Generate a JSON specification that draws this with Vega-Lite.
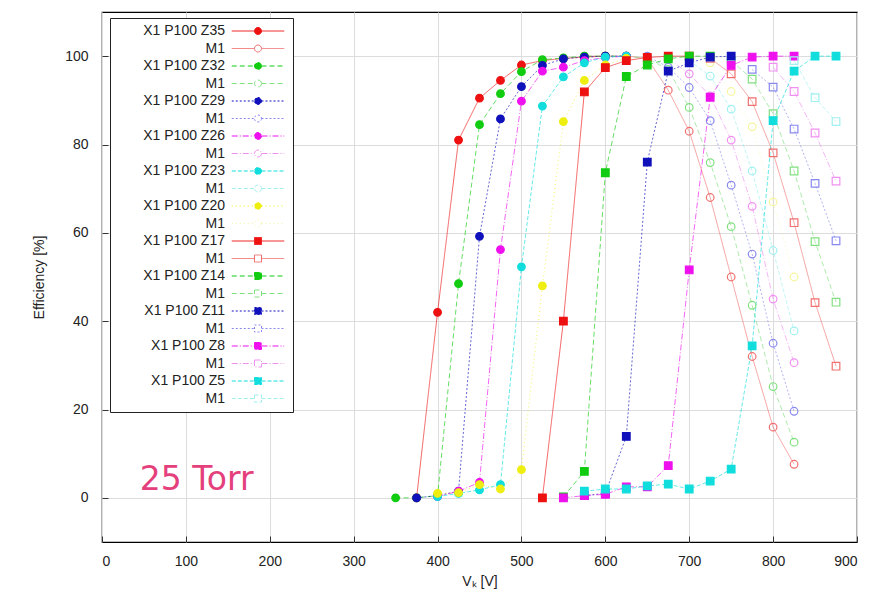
{
  "$schema": "https://vega.github.io/schema/vega-lite/v6.json",
  "width": 755,
  "height": 530,
  "autosize": "none",
  "padding": {"left": 102, "top": 12, "right": 22, "bottom": 55},
  "background": "white",
  "config": {
    "font": "Liberation Sans",
    "view": {"stroke": "black", "strokeWidth": 1.2},
    "axis": {
      "domain": false,
      "gridColor": "#dcdcdc",
      "gridWidth": 1,
      "tickColor": "#333",
      "tickSize": -6,
      "labelFont": "Liberation Sans",
      "labelFontSize": 14,
      "labelColor": "#222",
      "titleFont": "Liberation Sans",
      "titleFontSize": 14,
      "titleFontWeight": "normal",
      "titleColor": "#222"
    },
    "legend": {
      "orient": "none", "legendX": 8, "legendY": 6,
      "strokeColor": "#222", "fillColor": "white", "padding": 6,
      "labelFontSize": 14, "labelColor": "#222", "labelFont": "Liberation Sans",
      "labelAlign": "right", "labelOffset": -40, "symbolOffset": 135, "labelLimit": 200,
      "symbolSize": 49, "symbolStrokeWidth": 1, "rowPadding": 3.5, "symbolOpacity": 1
    }
  },
  "data": {"values": [
    {"s":"Z35","v":375,"e":0},{"s":"Z35","v":400,"e":42},{"s":"Z35","v":425,"e":81},{"s":"Z35","v":450,"e":90.5},{"s":"Z35","v":475,"e":94.5},{"s":"Z35","v":500,"e":98},{"s":"Z35","v":525,"e":99},{"s":"Z35","v":550,"e":99.5},{"s":"Z35","v":575,"e":99.8},{"s":"Z35","v":600,"e":100},
    {"s":"M1 Z35","v":575,"e":100},{"s":"M1 Z35","v":600,"e":100},{"s":"M1 Z35","v":625,"e":100},{"s":"M1 Z35","v":650,"e":99.5},{"s":"M1 Z35","v":675,"e":92.3},{"s":"M1 Z35","v":700,"e":83},{"s":"M1 Z35","v":725,"e":68},{"s":"M1 Z35","v":750,"e":50},{"s":"M1 Z35","v":775,"e":32},{"s":"M1 Z35","v":800,"e":16},{"s":"M1 Z35","v":825,"e":7.6},
    {"s":"Z32","v":350,"e":0},{"s":"Z32","v":375,"e":0},{"s":"Z32","v":400,"e":0.5},{"s":"Z32","v":425,"e":48.5},{"s":"Z32","v":450,"e":84.5},{"s":"Z32","v":475,"e":91.5},{"s":"Z32","v":500,"e":96.5},{"s":"Z32","v":525,"e":99.2},{"s":"Z32","v":550,"e":99.6},{"s":"Z32","v":575,"e":100},{"s":"Z32","v":600,"e":100},{"s":"Z32","v":625,"e":100},
    {"s":"M1 Z32","v":625,"e":100},{"s":"M1 Z32","v":650,"e":99.5},{"s":"M1 Z32","v":675,"e":97},{"s":"M1 Z32","v":700,"e":88.4},{"s":"M1 Z32","v":725,"e":75.9},{"s":"M1 Z32","v":750,"e":61.4},{"s":"M1 Z32","v":775,"e":43.6},{"s":"M1 Z32","v":800,"e":25.2},{"s":"M1 Z32","v":825,"e":12.6},
    {"s":"Z29","v":375,"e":0},{"s":"Z29","v":400,"e":0.5},{"s":"Z29","v":425,"e":1.5},{"s":"Z29","v":450,"e":59.2},{"s":"Z29","v":475,"e":85.8},{"s":"Z29","v":500,"e":93.1},{"s":"Z29","v":525,"e":97.9},{"s":"Z29","v":550,"e":99.4},{"s":"Z29","v":575,"e":99.8},{"s":"Z29","v":600,"e":100},{"s":"Z29","v":625,"e":100},
    {"s":"M1 Z29","v":650,"e":100},{"s":"M1 Z29","v":675,"e":97.5},{"s":"M1 Z29","v":700,"e":92.9},{"s":"M1 Z29","v":725,"e":85.4},{"s":"M1 Z29","v":750,"e":70.8},{"s":"M1 Z29","v":775,"e":55.2},{"s":"M1 Z29","v":800,"e":35},{"s":"M1 Z29","v":825,"e":19.6},
    {"s":"Z26","v":400,"e":0.3},{"s":"Z26","v":425,"e":1.5},{"s":"Z26","v":450,"e":3.5},{"s":"Z26","v":475,"e":56.2},{"s":"Z26","v":500,"e":89.8},{"s":"Z26","v":525,"e":96.6},{"s":"Z26","v":550,"e":97.5},{"s":"Z26","v":575,"e":99},{"s":"Z26","v":600,"e":99.7},{"s":"Z26","v":625,"e":100},
    {"s":"M1 Z26","v":675,"e":99.5},{"s":"M1 Z26","v":700,"e":96},{"s":"M1 Z26","v":725,"e":91},{"s":"M1 Z26","v":750,"e":81},{"s":"M1 Z26","v":775,"e":66},{"s":"M1 Z26","v":800,"e":45},{"s":"M1 Z26","v":825,"e":30.6},
    {"s":"Z23","v":400,"e":0.3},{"s":"Z23","v":425,"e":1},{"s":"Z23","v":450,"e":1.8},{"s":"Z23","v":475,"e":3},{"s":"Z23","v":500,"e":52.3},{"s":"Z23","v":525,"e":88.7},{"s":"Z23","v":550,"e":95.3},{"s":"Z23","v":575,"e":98.5},{"s":"Z23","v":600,"e":99.8},{"s":"Z23","v":625,"e":100},
    {"s":"M1 Z23","v":700,"e":99},{"s":"M1 Z23","v":725,"e":95.5},{"s":"M1 Z23","v":750,"e":88},{"s":"M1 Z23","v":775,"e":74},{"s":"M1 Z23","v":800,"e":56},{"s":"M1 Z23","v":825,"e":37.8},
    {"s":"Z20","v":400,"e":1},{"s":"Z20","v":425,"e":1.2},{"s":"Z20","v":450,"e":3},{"s":"Z20","v":475,"e":2},{"s":"Z20","v":500,"e":6.4},{"s":"Z20","v":525,"e":48},{"s":"Z20","v":550,"e":85.2},{"s":"Z20","v":575,"e":94.5},{"s":"Z20","v":600,"e":98},{"s":"Z20","v":625,"e":99.5},
    {"s":"M1 Z20","v":725,"e":98.5},{"s":"M1 Z20","v":750,"e":92},{"s":"M1 Z20","v":775,"e":84},{"s":"M1 Z20","v":800,"e":67},{"s":"M1 Z20","v":825,"e":50},
    {"s":"Z17","v":525,"e":0},{"s":"Z17","v":550,"e":40},{"s":"Z17","v":575,"e":91.9},{"s":"Z17","v":600,"e":97.4},{"s":"Z17","v":625,"e":99},{"s":"Z17","v":650,"e":99.7},{"s":"Z17","v":675,"e":100},{"s":"Z17","v":700,"e":100},
    {"s":"M1 Z17","v":725,"e":99.5},{"s":"M1 Z17","v":750,"e":96},{"s":"M1 Z17","v":775,"e":89.7},{"s":"M1 Z17","v":800,"e":78.1},{"s":"M1 Z17","v":825,"e":62.3},{"s":"M1 Z17","v":850,"e":44.2},{"s":"M1 Z17","v":875,"e":29.8},
    {"s":"Z14","v":550,"e":0.2},{"s":"Z14","v":575,"e":6},{"s":"Z14","v":600,"e":73.6},{"s":"Z14","v":625,"e":95.4},{"s":"Z14","v":650,"e":98},{"s":"Z14","v":675,"e":99.4},{"s":"Z14","v":700,"e":100},{"s":"Z14","v":725,"e":100},
    {"s":"M1 Z14","v":750,"e":99},{"s":"M1 Z14","v":775,"e":94.8},{"s":"M1 Z14","v":800,"e":87},{"s":"M1 Z14","v":825,"e":74},{"s":"M1 Z14","v":850,"e":58},{"s":"M1 Z14","v":875,"e":44.3},
    {"s":"Z11","v":575,"e":0.5},{"s":"Z11","v":600,"e":1},{"s":"Z11","v":625,"e":13.9},{"s":"Z11","v":650,"e":76},{"s":"Z11","v":675,"e":96.6},{"s":"Z11","v":700,"e":98.5},{"s":"Z11","v":725,"e":99.8},{"s":"Z11","v":750,"e":100},
    {"s":"M1 Z11","v":775,"e":97},{"s":"M1 Z11","v":800,"e":93},{"s":"M1 Z11","v":825,"e":83.5},{"s":"M1 Z11","v":850,"e":71.2},{"s":"M1 Z11","v":875,"e":58.2},
    {"s":"Z8","v":550,"e":0},{"s":"Z8","v":575,"e":0.5},{"s":"Z8","v":600,"e":0.8},{"s":"Z8","v":625,"e":2.5},{"s":"Z8","v":650,"e":2.5},{"s":"Z8","v":675,"e":7.3},{"s":"Z8","v":700,"e":51.6},{"s":"Z8","v":725,"e":90.7},{"s":"Z8","v":750,"e":97.9},{"s":"Z8","v":775,"e":99.8},{"s":"Z8","v":800,"e":100},{"s":"Z8","v":825,"e":100},
    {"s":"M1 Z8","v":800,"e":97.5},{"s":"M1 Z8","v":825,"e":92},{"s":"M1 Z8","v":850,"e":82.6},{"s":"M1 Z8","v":875,"e":71.7},
    {"s":"Z5","v":575,"e":1.5},{"s":"Z5","v":600,"e":2},{"s":"Z5","v":625,"e":2},{"s":"Z5","v":650,"e":2.7},{"s":"Z5","v":675,"e":3.1},{"s":"Z5","v":700,"e":2},{"s":"Z5","v":725,"e":3.8},{"s":"Z5","v":750,"e":6.5},{"s":"Z5","v":775,"e":34.4},{"s":"Z5","v":800,"e":85.4},{"s":"Z5","v":825,"e":96.6},{"s":"Z5","v":850,"e":100},{"s":"Z5","v":875,"e":100},
    {"s":"M1 Z5","v":825,"e":99},{"s":"M1 Z5","v":850,"e":90.6},{"s":"M1 Z5","v":875,"e":85.2}
  ]},
  "layer": [
    {
      "mark": {"type": "line", "strokeWidth": 1, "opacity": 0.65},
      "encoding": {
        "x": {"field": "v", "type": "quantitative", "scale": {"domain": [0, 900], "nice": false, "zero": false}, "axis": {"title": "Vₖ [V]", "values": [0,100,200,300,400,500,600,700,800,900], "labelPadding": 18, "titlePadding": 6}},
        "y": {"field": "e", "type": "quantitative", "scale": {"domain": [-10, 110], "nice": false, "zero": false}, "axis": {"title": "Efficiency [%]", "values": [0,20,40,60,80,100], "labelPadding": 20, "titlePadding": 18}},
        "color": {"field": "s", "type": "nominal",
          "scale": {"domain": ["Z35","M1 Z35","Z32","M1 Z32","Z29","M1 Z29","Z26","M1 Z26","Z23","M1 Z23","Z20","M1 Z20","Z17","M1 Z17","Z14","M1 Z14","Z11","M1 Z11","Z8","M1 Z8","Z5","M1 Z5"],
                    "range": ["#ee1111","#f07070","#11cc11","#80e080","#1111bb","#8888ee","#ee11ee","#f090f0","#11dddd","#a0f0f0","#eeee11","#f5f5a0","#ee1111","#f07070","#11cc11","#80e080","#1111bb","#8888ee","#ee11ee","#f090f0","#11dddd","#a0f0f0"]},
          "legend": {"title": null,
            "labelExpr": "indexof(datum.label, 'M1') == 0 ? 'M1' : 'X1 P100 ' + datum.label",
            "symbolType": {"expr": "indexof(['Z17','M1 Z17','Z14','M1 Z14','Z11','M1 Z11','Z8','M1 Z8','Z5','M1 Z5'], datum.value) >= 0 ? 'M-7.5,0H-1M1,0H7.5M-1,-1H1V1H-1Z' : 'M-7.5,0H-1M1,0H7.5M1,0A1,1 0 1,1 -1,0A1,1 0 1,1 1,0Z'"}}
        },
        "strokeDash": {"field": "s", "type": "nominal",
          "scale": {"domain": ["Z35","M1 Z35","Z32","M1 Z32","Z29","M1 Z29","Z26","M1 Z26","Z23","M1 Z23","Z20","M1 Z20","Z17","M1 Z17","Z14","M1 Z14","Z11","M1 Z11","Z8","M1 Z8","Z5","M1 Z5"],
                    "range": [[1,0],[1,0],[5,3],[5,3],[2,2],[2,2],[6,2,1,2],[6,2,1,2],[4,2],[4,2],[1,3],[1,3],[1,0],[1,0],[5,3],[5,3],[2,2],[2,2],[6,2,1,2],[6,2,1,2],[4,2],[4,2]]},
          "legend": {"title": null,
            "labelExpr": "indexof(datum.label, 'M1') == 0 ? 'M1' : 'X1 P100 ' + datum.label",
            "symbolType": {"expr": "indexof(['Z17','M1 Z17','Z14','M1 Z14','Z11','M1 Z11','Z8','M1 Z8','Z5','M1 Z5'], datum.value) >= 0 ? 'M-7.5,0H-1M1,0H7.5M-1,-1H1V1H-1Z' : 'M-7.5,0H-1M1,0H7.5M1,0A1,1 0 1,1 -1,0A1,1 0 1,1 1,0Z'"}}
        }
      }
    },
    {
      "transform": [{"filter": {"field": "s", "oneOf": ["Z35","M1 Z35","Z32","M1 Z32","Z29","M1 Z29","Z26","M1 Z26","Z23","M1 Z23","Z20","M1 Z20"]}}],
      "mark": {"type": "point", "shape": "circle", "filled": false, "size": 58, "strokeWidth": 1.2, "opacity": 1},
      "encoding": {
        "x": {"field": "v", "type": "quantitative"},
        "y": {"field": "e", "type": "quantitative"},
        "color": {"field": "s", "type": "nominal"},
        "fill": {"field": "s", "type": "nominal",
          "scale": {"domain": ["Z35","M1 Z35","Z32","M1 Z32","Z29","M1 Z29","Z26","M1 Z26","Z23","M1 Z23","Z20","M1 Z20","Z17","M1 Z17","Z14","M1 Z14","Z11","M1 Z11","Z8","M1 Z8","Z5","M1 Z5"],
                    "range": ["#ee1111","transparent","#11cc11","transparent","#1111bb","transparent","#ee11ee","transparent","#11dddd","transparent","#eeee11","transparent","#ee1111","transparent","#11cc11","transparent","#1111bb","transparent","#ee11ee","transparent","#11dddd","transparent"]},
          "legend": {"title": null,
            "labelExpr": "indexof(datum.label, 'M1') == 0 ? 'M1' : 'X1 P100 ' + datum.label",
            "symbolType": {"expr": "indexof(['Z17','M1 Z17','Z14','M1 Z14','Z11','M1 Z11','Z8','M1 Z8','Z5','M1 Z5'], datum.value) >= 0 ? 'M-7.5,0H-1M1,0H7.5M-1,-1H1V1H-1Z' : 'M-7.5,0H-1M1,0H7.5M1,0A1,1 0 1,1 -1,0A1,1 0 1,1 1,0Z'"}}
        }
      }
    },
    {
      "transform": [{"filter": {"field": "s", "oneOf": ["Z17","M1 Z17","Z14","M1 Z14","Z11","M1 Z11","Z8","M1 Z8","Z5","M1 Z5"]}}],
      "mark": {"type": "point", "shape": "square", "filled": false, "size": 58, "strokeWidth": 1.2, "opacity": 1},
      "encoding": {
        "x": {"field": "v", "type": "quantitative"},
        "y": {"field": "e", "type": "quantitative"},
        "color": {"field": "s", "type": "nominal"},
        "fill": {"field": "s", "type": "nominal"}
      }
    },
    {
      "data": {"values": [{"x": 45, "y": 4, "t": "25 Torr"}]},
      "mark": {"type": "text", "align": "left", "baseline": "middle", "fontSize": 33, "font": "DejaVu Sans", "color": "#e4407c"},
      "encoding": {
        "x": {"field": "x", "type": "quantitative"},
        "y": {"field": "y", "type": "quantitative"},
        "text": {"field": "t"}
      }
    }
  ]
}
